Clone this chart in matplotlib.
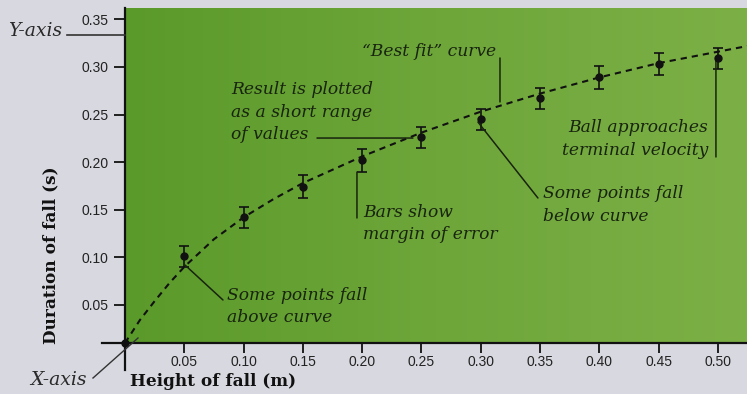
import numpy as np
import matplotlib
matplotlib.use("Agg")
import matplotlib.pyplot as plt
from matplotlib.colors import LinearSegmentedColormap
from matplotlib.lines import Line2D

# Measured drop heights, fall times and error margins
heights = [0.0, 0.05, 0.10, 0.15, 0.20, 0.25, 0.30, 0.35, 0.40, 0.45, 0.50]
durations = [0.010, 0.101, 0.142, 0.174, 0.202, 0.226, 0.245, 0.267, 0.289, 0.303, 0.309]
errors = [0.0, 0.011, 0.011, 0.012, 0.012, 0.011, 0.011, 0.011, 0.012, 0.012, 0.011]

# Best fit curve, sampled by eye
fit_x = [0.0, 0.0125, 0.025, 0.0375, 0.05, 0.075, 0.10, 0.125, 0.15, 0.20, 0.25,
         0.30, 0.35, 0.40, 0.45, 0.50, 0.525]
fit_y = [0.010, 0.034, 0.054, 0.073, 0.090, 0.119, 0.142, 0.161, 0.178, 0.206, 0.231,
         0.253, 0.272, 0.289, 0.304, 0.316, 0.322]

x_ticks = [0.05, 0.10, 0.15, 0.20, 0.25, 0.30, 0.35, 0.40, 0.45, 0.50]
y_ticks = [0.05, 0.10, 0.15, 0.20, 0.25, 0.30, 0.35]

ink = "#18240e"
serif = "DejaVu Serif"
W, H = 747, 394

fig = plt.figure(figsize=(7.47, 3.94), dpi=100, facecolor="#d8d8e0")
ax = fig.add_axes([125 / W, 51 / H, 622 / W, 335 / H])
ax.set_xlim(0, 0.5245)
ax.set_ylim(0.01, 0.3619)

# green panel with a soft left-to-right shading
green = LinearSegmentedColormap.from_list("panel", ["#5a9a2a", "#6ea63a", "#7cb046"])
ax.imshow(np.linspace(0, 1, 256).reshape(1, -1), cmap=green, aspect="auto",
          extent=[0, 1, 0, 1], transform=ax.transAxes, zorder=0)

ax.plot(fit_x, fit_y, color="#111111", lw=1.5, ls=(0, (3, 2.4)), zorder=2)
ax.errorbar(heights, durations, yerr=errors, fmt="o", ms=5, color="#111111",
            ecolor="#111111", elinewidth=1.2, capsize=3.6, capthick=1.2, zorder=3,
            clip_on=False)

for side in ["top", "right"]:
    ax.spines[side].set_visible(False)
for side in ["left", "bottom"]:
    ax.spines[side].set_linewidth(1.6)
    ax.spines[side].set_color("#111111")
    ax.spines[side].set_zorder(4)

ax.set_xticks(x_ticks)
ax.set_xticklabels([f"{v:.2f}" for v in x_ticks])
ax.set_yticks(y_ticks)
ax.set_yticklabels([f"{v:.2f}" for v in y_ticks])
ax.tick_params(axis="x", length=7, width=1.3, pad=2, color="#111111")
ax.tick_params(axis="y", length=8, width=1.3, pad=4, color="#111111")
for lab in ax.get_xticklabels() + ax.get_yticklabels():
    lab.set_fontfamily("Liberation Sans")
    lab.set_fontsize(10)
    lab.set_color("#222222")

# axis titles
fig.text(130 / W, 1 - 382 / H, "Height of fall (m)", family=serif, weight="bold",
         fontsize=12.2, color="#111111", ha="left", va="center")
fig.text(51 / W, 1 - 255 / H, "Duration of fall (s)", family=serif, weight="bold",
         fontsize=12.2, color="#111111", ha="center", va="center", rotation=90)

# axis extensions past the origin
ax.plot([-0.037, 0], [0, 0], transform=ax.transAxes, color="#111111", lw=1.6, clip_on=False)
ax.plot([0, 0], [-0.08, 0], transform=ax.transAxes, color="#111111", lw=1.6, clip_on=False)

# callouts for the axes
fig.add_artist(Line2D([67 / W, 125 / W], [1 - 35 / H, 1 - 35 / H], color="#333333", lw=1.2))
fig.add_artist(Line2D([93 / W, 138 / W], [1 - 378 / H, 1 - 338 / H], color="#333333", lw=1.0))
fig.text(8 / W, 1 - 31 / H, "Y-axis", family=serif, style="italic", fontsize=13.5,
         color="#2a2a2a", va="center")
fig.text(30 / W, 1 - 380 / H, "X-axis", family=serif, style="italic", fontsize=13.5,
         color="#2a2a2a", va="center")


def pointer(p0, p1):
    ax.annotate("", xy=p1, xytext=p0,
                arrowprops=dict(arrowstyle="-", color=ink, lw=1.1, shrinkA=0, shrinkB=0))


def note(x, y, s, ha="left"):
    ax.text(x, y, s, family=serif, style="italic", fontsize=12.3, color=ink,
            ha=ha, va="center", linespacing=1.4, multialignment=ha)


note(0.1998, 0.3157, "\u201cBest fit\u201d curve")
pointer((0.3162, 0.3094), (0.3162, 0.2632))

note(0.0894, 0.2526, "Result is plotted\nas a short range\nof values")
pointer((0.1619, 0.2253), (0.2428, 0.2253))

note(0.2007, 0.1355, "Bars show\nmargin of error")
pointer((0.1956, 0.1896), (0.1956, 0.1413))

note(0.3524, 0.1550, "Some points fall\nbelow curve")
pointer((0.2976, 0.2421), (0.3482, 0.1623))

note(0.4916, 0.2243, "Ball approaches\nterminal velocity", ha="right")
pointer((0.4983, 0.309), (0.4983, 0.2054))

note(0.0860, 0.0483, "Some points fall\nabove curve")
pointer((0.0506, 0.0919), (0.0826, 0.0552))

fig.savefig("out.png", dpi=100, facecolor=fig.get_facecolor())
